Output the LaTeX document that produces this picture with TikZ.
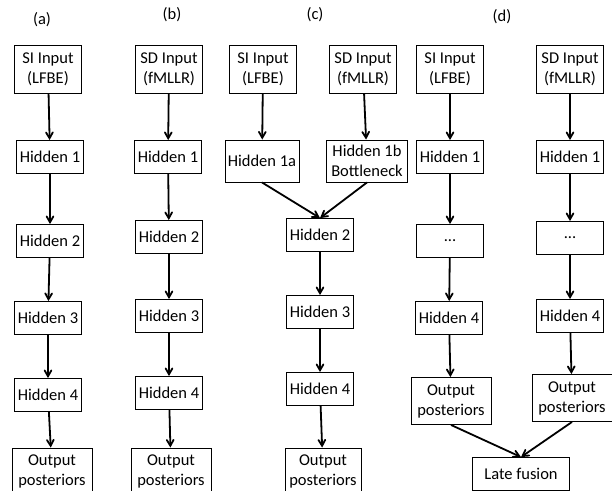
\documentclass[tikz,border=0pt]{standalone}
\usepackage{fontspec}
\setmainfont{Carlito}
\usetikzlibrary{arrows}

\begin{document}
\begin{tikzpicture}[x=1pt,y=-1pt]
					\tikzstyle{layer}=[rectangle,draw=black,line width=0.9pt,align=center,inner sep=2pt,minimum width=67pt,minimum height=33pt,font=\fontsize{16.5}{20}\selectfont]
					\tikzstyle{input}=[layer,minimum height=48pt]
					\tikzstyle{output}=[layer,minimum width=80pt,minimum height=46pt]
					\tikzstyle{link}=[->,>=angle 60,line width=1.8pt]
					\clip (0,0) rectangle (612,490);
					\useasboundingbox (0,0) rectangle (612,490);
					% labels
					\node[font=\fontsize{16.5}{20}\selectfont] (la) at (42,20) {(a)};
					\node[font=\fontsize{16.5}{20}\selectfont] (lb) at (172,15) {(b)};
					\node[font=\fontsize{16.5}{20}\selectfont] (lc) at (315,15) {(c)};
					\node[font=\fontsize{16.5}{20}\selectfont] (ld) at (502,17) {(d)};
					% (a)
					\node[input] (a1) at (48,69) {SI Input\\(LFBE)};
					\node[layer] (a2) at (50,157) {Hidden 1};
					\node[layer] (a3) at (50,241) {Hidden 2};
					\node[layer] (a4) at (48,318) {Hidden 3};
					\node[layer] (a5) at (48,395) {Hidden 4};
					\node[output] (a6) at (52,471) {Output\\posteriors};
					% (b)
					\node[input] (b1) at (169,69) {SD Input\\(fMLLR)};
					\node[layer] (b2) at (168,157) {Hidden 1};
					\node[layer] (b3) at (169,237) {Hidden 2};
					\node[layer] (b4) at (169,316) {Hidden 3};
					\node[layer] (b5) at (169,393) {Hidden 4};
					\node[output] (b6) at (171,471) {Output\\posteriors};
					% (c)
					\node[input] (c1) at (263,69) {SI Input\\(LFBE)};
					\node[input] (c2) at (363,69) {SD Input\\(fMLLR)};
					\node[layer,minimum width=74pt,minimum height=42pt] (c3) at (262,161) {Hidden 1a};
					\node[layer,minimum width=81pt,minimum height=42pt] (c4) at (367,161) {Hidden 1b\\Bottleneck};
					\node[layer] (c5) at (320,235) {Hidden 2};
					\node[layer] (c6) at (320,312) {Hidden 3};
					\node[layer] (c7) at (320,389) {Hidden 4};
					\node[output,minimum width=76pt] (c8) at (323,471) {Output\\posteriors};
					% (d)
					\node[input] (d1) at (450,69) {SI Input\\(LFBE)};
					\node[input] (d2) at (570,69) {SD Input\\(fMLLR)};
					\node[layer] (d3) at (450,157) {Hidden 1};
					\node[layer] (d4) at (570,157) {Hidden 1};
					\node[layer] (d5) at (450,241) {...};
					\node[layer] (d6) at (570,238) {...};
					\node[layer] (d7) at (449,318) {Hidden 4};
					\node[layer] (d8) at (570,316) {Hidden 4};
					\node[output,minimum height=47pt] (d9) at (451,401) {Output\\posteriors};
					\node[output,minimum height=47pt] (d10) at (572,398) {Output\\posteriors};
					\node[layer,minimum width=97pt] (d11) at (521,474) {Late fusion};
					\draw[link] (a1) -- (a2);
					\draw[link] (a2) -- (a3);
					\draw[link] (a3) -- (a4);
					\draw[link] (a4) -- (a5);
					\draw[link] (a5) -- (a6);
					\draw[link] (b1) -- (b2);
					\draw[link] (b2) -- (b3);
					\draw[link] (b3) -- (b4);
					\draw[link] (b4) -- (b5);
					\draw[link] (b5) -- (b6);
					\draw[link] (c1) -- (c3);
					\draw[link] (c2) -- (c4);
					\draw[link] (c3.south) -- (c5.north);
					\draw[link] (c4.south) -- (c5.north);
					\draw[link] (c5) -- (c6);
					\draw[link] (c6) -- (c7);
					\draw[link] (c7) -- (c8);
					\draw[link] (d1) -- (d3);
					\draw[link] (d2) -- (d4);
					\draw[link] (d3) -- (d5);
					\draw[link] (d4) -- (d6);
					\draw[link] (d5) -- (d7);
					\draw[link] (d6) -- (d8);
					\draw[link] (d7) -- (d9);
					\draw[link] (d8) -- (d10);
					\draw[link] (d9.south) -- (d11.north);
					\draw[link] (d10.south) -- (d11.north);
\end{tikzpicture}
\end{document}
